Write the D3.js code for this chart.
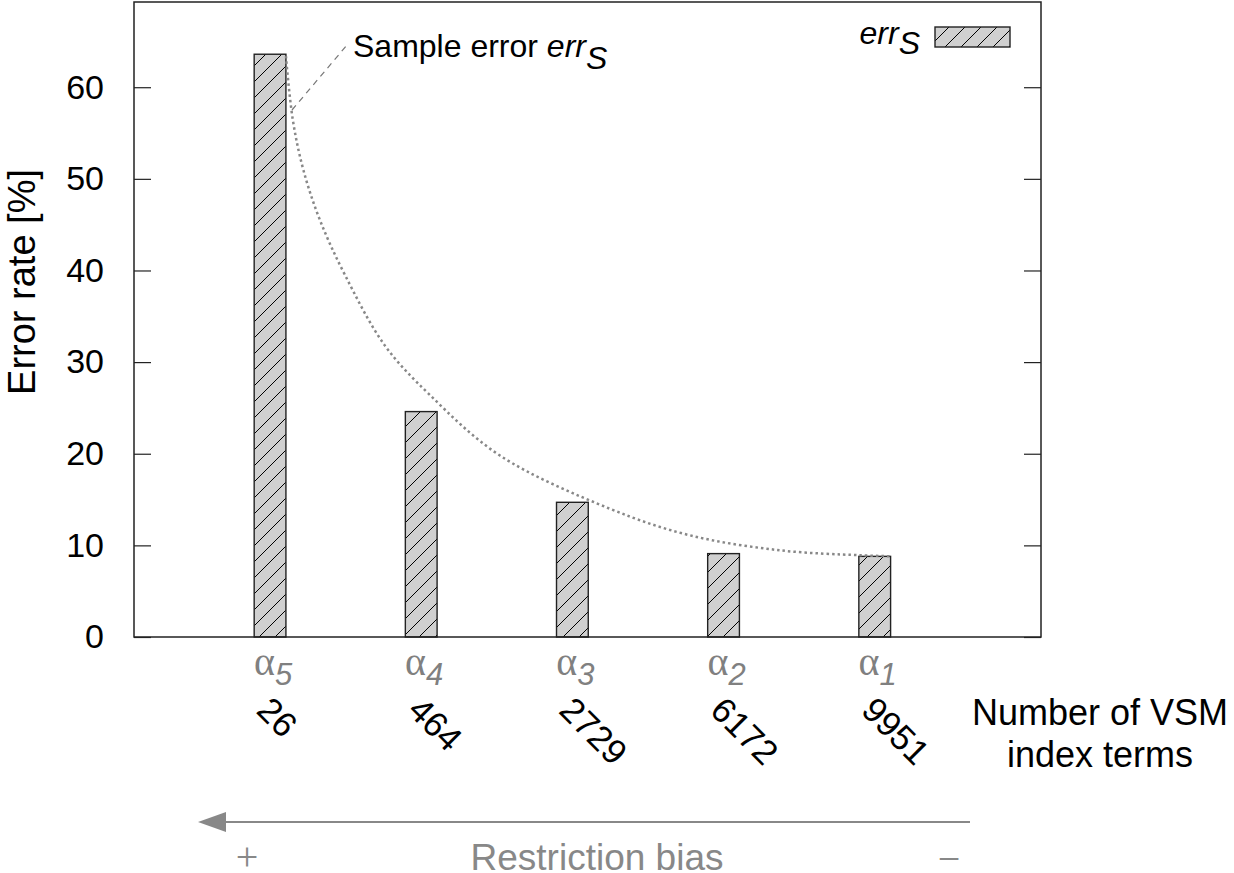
<!DOCTYPE html>
<html lang='en'>
<head>
  <meta charset='UTF-8'>
  <title>Error rate vs VSM index terms</title>
  <style>
    body { margin: 0; background: #fff; }
    svg { display: block; font-family: 'Liberation Sans', Arial, sans-serif; }
  </style>
</head>
<body>
<div id='chart'></div>
<script src='https://d3js.org/d3.v7.min.js'></script>
<script>
  // data
  var alphaIdx = ['5', '4', '3', '2', '1']
  var termCounts = ['26', '464', '2729', '6172', '9951']
  var errS = [63.6, 24.6, 14.7, 9.1, 8.8]
  var yTicks = [0, 10, 20, 30, 40, 50, 60]
  // dotted trend line (x in category units, y in %)
  var trendX = [0.105, 0.15, 0.22, 0.33, 0.496, 0.76, 1.058, 1.521, 2.248, 2.777, 3.373, 3.902, 4.107]
  var trendY = [63.4, 56.5, 51.0, 45.5, 39.5, 31.8, 26.4, 19.8, 14.0, 11.1, 9.46, 8.92, 8.81]

  var W = 1234, H = 873
  var plot = { left: 134, right: 1041, top: 2, bottom: 637 }
  var barW = 0.21

  var svg = d3.select('#chart').append('svg')
    .attr('width', W)
    .attr('height', H)

  var x = d3.scaleLinear().domain([-0.9, 5.1]).range([plot.left, plot.right])
  var y = d3.scaleLinear().domain([0, 69.3]).range([plot.bottom, plot.top])

  // hatch pattern
  var pat = svg.append('defs').append('pattern')
    .attr('id', 'hatch')
    .attr('patternUnits', 'userSpaceOnUse')
    .attr('width', 16).attr('height', 16)
  pat.append('rect').attr('width', 16).attr('height', 16).attr('fill', '#d0d0d0')
  pat.append('path')
    .attr('d', 'M0,16L16,0M-4,4L4,-4M12,20L20,12')
    .attr('stroke', '#000').attr('stroke-width', 1)

  // bars
  svg.append('g').selectAll('rect')
    .data(errS)
    .enter().append('rect')
    .attr('x', function (d, i) { return x(i - barW / 2) })
    .attr('y', function (d) { return y(d) })
    .attr('width', x(barW) - x(0))
    .attr('height', function (d) { return y(0) - y(d) })
    .attr('fill', 'url(#hatch)')
    .attr('stroke', '#222')
    .attr('stroke-width', 1.4)

  // frame
  svg.append('rect')
    .attr('x', plot.left).attr('y', plot.top)
    .attr('width', plot.right - plot.left)
    .attr('height', plot.bottom - plot.top)
    .attr('fill', 'none')
    .attr('stroke', '#222')
    .attr('stroke-width', 1.5)

  // y axis, ticks inward on both sides
  var yAxisL = d3.axisLeft(y).tickValues(yTicks).tickSize(-17).tickPadding(30)
  var gL = svg.append('g').attr('transform', 'translate(' + plot.left + ',0)').call(yAxisL)
  gL.select('.domain').remove()
  gL.selectAll('line').attr('stroke', '#222').attr('stroke-width', 1.2)
  gL.selectAll('text')
    .attr('font-size', 34).attr('fill', '#000')
    .attr('font-family', "'Liberation Sans', Arial, sans-serif")

  var yAxisR = d3.axisRight(y).tickValues(yTicks).tickSize(-17).tickFormat('')
  var gR = svg.append('g').attr('transform', 'translate(' + plot.right + ',0)').call(yAxisR)
  gR.select('.domain').remove()
  gR.selectAll('line').attr('stroke', '#222').attr('stroke-width', 1.2)

  svg.append('text')
    .attr('transform', 'translate(35,282) rotate(-90)')
    .attr('text-anchor', 'middle')
    .attr('font-size', 38)
    .text('Error rate [%]')

  // trend line
  var line = d3.line()
    .x(function (d) { return x(d[0]) })
    .y(function (d) { return y(d[1]) })
    .curve(d3.curveCatmullRom.alpha(0.5))
  svg.append('path')
    .attr('d', line(d3.zip(trendX, trendY)))
    .attr('fill', 'none')
    .attr('stroke', '#888')
    .attr('stroke-width', 2.5)
    .attr('stroke-dasharray', '2.5,3')

  // annotation
  svg.append('line')
    .attr('x1', 292).attr('y1', 110).attr('x2', 347).attr('y2', 45)
    .attr('stroke', '#777').attr('stroke-width', 1.2)
    .attr('stroke-dasharray', '6,5')
  var ann = svg.append('text').attr('x', 353).attr('y', 57).attr('font-size', 32)
  ann.append('tspan').text('Sample error ')
  ann.append('tspan').attr('font-style', 'italic').text('err')
  ann.append('tspan').attr('font-style', 'italic').attr('dy', 12).text('S')

  // legend
  var leg = svg.append('text').attr('x', 920).attr('y', 44).attr('font-size', 32).attr('text-anchor', 'end')
  leg.append('tspan').attr('font-style', 'italic').text('err')
  leg.append('tspan').attr('font-style', 'italic').attr('dy', 10).text('S')
  svg.append('rect')
    .attr('x', 935).attr('y', 27).attr('width', 75).attr('height', 20)
    .attr('fill', 'url(#hatch)').attr('stroke', '#222').attr('stroke-width', 1.4)

  // alpha labels
  var al = svg.append('g').selectAll('text')
    .data(alphaIdx)
    .enter().append('text')
    .attr('x', function (d, i) { return x(i) + 3 })
    .attr('y', 675)
    .attr('text-anchor', 'middle')
    .attr('fill', '#808080')
  al.append('tspan')
    .attr('font-family', "'Liberation Serif', 'Times New Roman', serif")
    .attr('font-size', 40)
    .text('\u03b1')
  al.append('tspan')
    .attr('font-size', 31).attr('font-style', 'italic')
    .attr('dy', 10)
    .text(function (d) { return d })

  // rotated term counts
  svg.append('g').selectAll('text')
    .data(termCounts)
    .enter().append('text')
    .attr('transform', function (d, i) { return 'translate(' + (x(i) - 15) + ',712) rotate(45)' })
    .attr('font-size', 35)
    .text(function (d) { return d })

  var xl = svg.append('text').attr('text-anchor', 'middle').attr('font-size', 36)
  xl.append('tspan').attr('x', 1100).attr('y', 725).text('Number of VSM')
  xl.append('tspan').attr('x', 1100).attr('y', 767).text('index terms')

  // restriction bias arrow
  svg.append('line')
    .attr('x1', 970).attr('y1', 822).attr('x2', 220).attr('y2', 822)
    .attr('stroke', '#888').attr('stroke-width', 2)
  svg.append('path')
    .attr('d', 'M198,822L226,812L226,832Z')
    .attr('fill', '#888')
  svg.append('text')
    .attr('x', 247).attr('y', 870).attr('text-anchor', 'middle')
    .attr('font-size', 40).attr('fill', '#888')
    .attr('font-family', "'Liberation Serif', serif")
    .text('+')
  svg.append('text')
    .attr('x', 949).attr('y', 872).attr('text-anchor', 'middle')
    .attr('font-size', 40).attr('fill', '#888')
    .attr('font-family', "'Liberation Serif', serif")
    .text('\u2212')
  svg.append('text')
    .attr('x', 597).attr('y', 870).attr('text-anchor', 'middle')
    .attr('font-size', 37).attr('fill', '#888')
    .text('Restriction bias')
</script>
</body>
</html>
